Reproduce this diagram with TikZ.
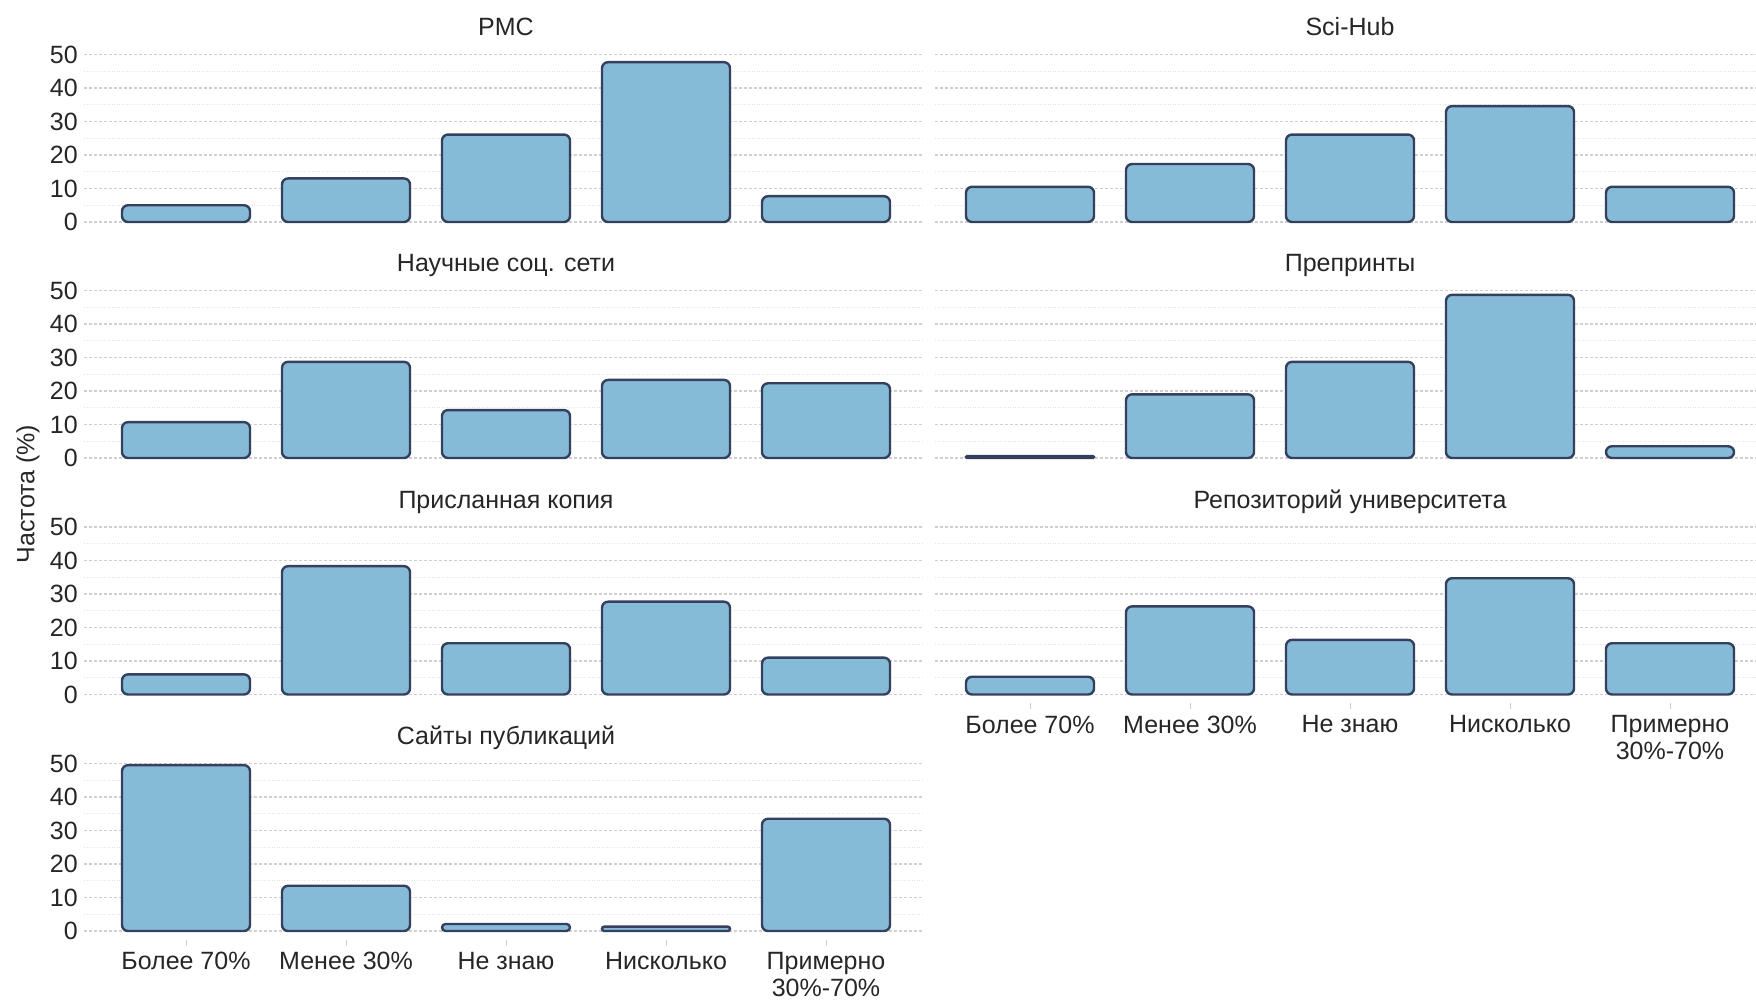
\documentclass[tikz,border=0pt]{standalone}
\usepackage{fontspec}
\setmainfont{Liberation Sans}
\definecolor{barfill}{HTML}{86BBD8}
\definecolor{barline}{HTML}{34405E}
\definecolor{majorgrid}{HTML}{CFCFCF}
\definecolor{minorgrid}{HTML}{E4E4E4}
\definecolor{ink}{HTML}{262626}
\begin{document}
\begin{tikzpicture}[x=1pt,y=1pt,
  txt/.style={font=\fontsize{25}{27}\selectfont,text=ink,inner sep=0pt},
  ttl/.style={txt,anchor=base},
  ylbl/.style={txt,anchor=east},
  xlbl/.style={txt,anchor=north,align=center},
  major/.style={draw=majorgrid,line width=1.3pt,dash pattern=on 2.7pt off 2.3pt},
  minor/.style={draw=minorgrid,line width=1pt,dash pattern=on 1pt off 1.5pt},
  bar/.style={fill=barfill,draw=barline,line width=2.4pt},
  xtick/.style={draw=majorgrid,line width=1pt}]
  \useasboundingbox (0,0) rectangle (1756,1001);
  \foreach \xa/\xb/\yz in {84/923/779, 84/923/543, 84/923/306.5, 84/923/70,
      935/1756/779, 935/1756/543, 935/1756/306.5}{
    \foreach \v in {5,15,...,45} \draw[minor] (\xa,\yz+3.35*\v) -- (\xb,\yz+3.35*\v);
    \foreach \v in {0,10,...,50} \draw[major] (\xa,\yz+3.35*\v) -- (\xb,\yz+3.35*\v);
  }
  \foreach \xc/\yz/\vals in {186/779/{5,13,26.1,47.7,7.7},
      186/543/{10.7,28.7,14.3,23.3,22.3},
      186/306.5/{6,38.3,15.3,27.7,11},
      186/70/{49.5,13.5,2.1,1.3,33.5},
      1030/779/{10.5,17.3,26.1,34.6,10.5},
      1030/543/{0.6,19,28.7,48.7,3.5},
      1030/306.5/{5.3,26.3,16.3,34.7,15.3}}{
    \foreach \v [count=\i] in \vals {
      \pgfmathsetmacro\h{3.35*\v}
      \pgfmathsetmacro\rad{min(6,\h/2)}
      \pgfmathsetmacro\xm{\xc+160*(\i-1)}
      \draw[bar,rounded corners=\rad pt] (\xm-64,\yz) rectangle (\xm+64,\yz+\h);
    }
  }
  \node[ttl] (pmc) at (506,965.5) {PMC};
  \node[ttl] (scihub) at (1350,965.5) {Sci-Hub};
  \node[ttl] (socnet) at (506,729) {Научные соц. сети};
  \node[ttl] (preprint) at (1350,729) {Препринты};
  \node[ttl] (copy) at (506,492.5) {Присланная копия};
  \node[ttl] (repo) at (1350,492.5) {Репозиторий университета};
  \node[ttl] (sites) at (506,256) {Сайты публикаций};
  \foreach \yz [count=\row] in {779,543,306.5,70}
    \foreach \v in {0,10,...,50}
      \node[ylbl] (t\row-\v) at (78,\yz+3.35*\v) {\v};
  \foreach \xc/\yz in {186/70, 1030/306.5}
    \foreach \lab [count=\i] in {Более 70\%, Менее 30\%, Не знаю, Нисколько, {Примерно\\30\%-70\%}} {
      \draw[xtick] (\xc+160*\i-160,\yz-9) -- ++(0,-6);
      \node[xlbl] (x\xc-\i) at (\xc+160*\i-160,\yz-21) {\lab};
    }
  \node[txt,rotate=90] (ylab) at (28,507) {Частота (\%)};
\end{tikzpicture}
\end{document}
